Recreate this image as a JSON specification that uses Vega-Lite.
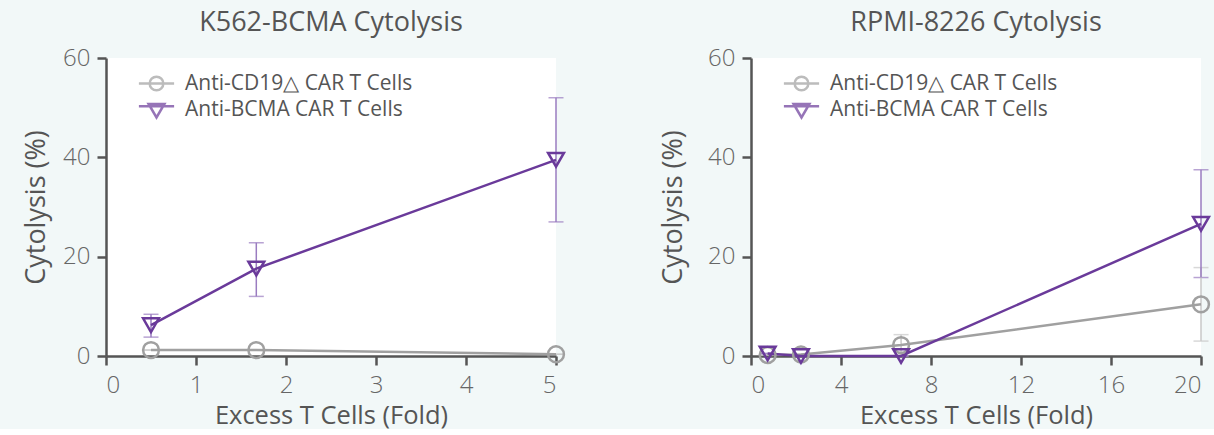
{
  "$schema": "https://vega.github.io/schema/vega-lite/v6.json",
  "background": "#f2f8f8",
  "padding": {"left": 22, "top": 9, "right": 2, "bottom": 0},
  "config": {
    "font": "Open Sans",
    "view": {"fill": "white", "stroke": null},
    "axis": {
      "grid": false,
      "domainColor": "#555555",
      "domainWidth": 2.5,
      "tickColor": "#555555",
      "tickWidth": 2.5,
      "tickSize": 9,
      "labelFont": "Open Sans",
      "labelFontWeight": 300,
      "labelFontSize": 24,
      "labelColor": "#666666",
      "titleFont": "Open Sans",
      "titleFontWeight": "normal",
      "titleFontSize": 27,
      "titleColor": "#555555"
    },
    "axisX": {"labelPadding": 8, "titlePadding": 6, "titleFontSize": 25.5},
    "axisY": {"labelPadding": 7, "titlePadding": 12},
    "title": {"font": "Open Sans", "fontSize": 27, "fontWeight": "normal", "color": "#555555", "anchor": "middle"},
    "legend": {
      "orient": "none",
      "legendX": 38,
      "legendY": 13,
      "labelFont": "Open Sans",
      "labelFontSize": 21,
      "labelColor": "#555555",
      "labelLimit": 0,
      "labelOffset": 16,
      "symbolSize": 484,
      "symbolStrokeWidth": 2.5,
      "symbolFillColor": "transparent",
      "rowPadding": 1,
      "title": null,
      "padding": 0
    }
  },
  "datasets": {
    "k562": [
      {"group": "Anti-CD19△ CAR T Cells", "fold": 0.5, "cytolysis": 1.2, "lo": 1.2, "hi": 1.2},
      {"group": "Anti-CD19△ CAR T Cells", "fold": 1.67, "cytolysis": 1.2, "lo": 1.2, "hi": 1.2},
      {"group": "Anti-CD19△ CAR T Cells", "fold": 5, "cytolysis": 0.35, "lo": 0.35, "hi": 0.35},
      {"group": "Anti-BCMA CAR T Cells", "fold": 0.5, "cytolysis": 6.2, "lo": 3.8, "hi": 8.4},
      {"group": "Anti-BCMA CAR T Cells", "fold": 1.67, "cytolysis": 17.6, "lo": 12, "hi": 22.8},
      {"group": "Anti-BCMA CAR T Cells", "fold": 5, "cytolysis": 39.5, "lo": 27, "hi": 52}
    ],
    "rpmi": [
      {"group": "Anti-CD19△ CAR T Cells", "fold": 0.74, "cytolysis": 0.2, "lo": 0.2, "hi": 0.2},
      {"group": "Anti-CD19△ CAR T Cells", "fold": 2.22, "cytolysis": 0.3, "lo": 0.3, "hi": 0.3},
      {"group": "Anti-CD19△ CAR T Cells", "fold": 6.67, "cytolysis": 2.2, "lo": 0.1, "hi": 4.3},
      {"group": "Anti-CD19△ CAR T Cells", "fold": 20, "cytolysis": 10.4, "lo": 3, "hi": 17.8},
      {"group": "Anti-BCMA CAR T Cells", "fold": 0.74, "cytolysis": 0.5, "lo": 0.5, "hi": 0.5},
      {"group": "Anti-BCMA CAR T Cells", "fold": 2.22, "cytolysis": 0, "lo": 0, "hi": 0},
      {"group": "Anti-BCMA CAR T Cells", "fold": 6.67, "cytolysis": 0, "lo": 0, "hi": 0},
      {"group": "Anti-BCMA CAR T Cells", "fold": 20, "cytolysis": 26.6, "lo": 15.8, "hi": 37.5}
    ]
  },
  "hconcat": [
    {
      "width": 450,
      "height": 298,
      "title": {"text": "K562-BCMA Cytolysis", "offset": 9},
      "data": {"name": "k562"},
      "encoding": {
        "x": {"field": "fold", "type": "quantitative", "title": "Excess T Cells (Fold)",
          "scale": {"domain": [0, 5], "nice": false},
          "axis": {"values": [0, 1, 2, 3, 4, 5], "format": "d"}}
      },
      "layer": [
        {
          "mark": {"type": "errorbar", "ticks": {"size": 15}, "thickness": 1.5},
          "encoding": {
            "y": {"field": "lo", "type": "quantitative", "title": "Cytolysis (%)",
              "scale": {"domain": [0, 60], "nice": false}},
            "y2": {"field": "hi"},
            "color": {"field": "group", "type": "nominal", "legend": null,
              "scale": {"domain": ["Anti-CD19△ CAR T Cells", "Anti-BCMA CAR T Cells"], "range": ["#c8c8c8", "#9a7cc0"]}}
          }
        },
        {
          "mark": {"type": "line", "strokeWidth": 2.5},
          "encoding": {
            "y": {"field": "cytolysis", "type": "quantitative", "title": "Cytolysis (%)"},
            "color": {"field": "group", "type": "nominal", "legend": null,
              "scale": {"domain": ["Anti-CD19△ CAR T Cells", "Anti-BCMA CAR T Cells"], "range": ["#a0a0a0", "#6a3a9a"]}}
          }
        },
        {
          "mark": {"type": "point", "filled": false, "strokeWidth": 2.5, "size": 250, "opacity": 1},
          "encoding": {
            "y": {"field": "cytolysis", "type": "quantitative", "title": "Cytolysis (%)",
              "axis": {"values": [0, 20, 40, 60]}},
            "color": {"field": "group", "type": "nominal", "legend": null,
              "scale": {"domain": ["Anti-CD19△ CAR T Cells", "Anti-BCMA CAR T Cells"], "range": ["#a0a0a0", "#6a3a9a"]}},
            "shape": {"field": "group", "type": "nominal", "legend": null,
              "scale": {"domain": ["Anti-CD19△ CAR T Cells", "Anti-BCMA CAR T Cells"], "range": ["circle", "triangle-down"]}}
          }
        },
        {
          "transform": [{"filter": "datum.fold < 0"}],
          "mark": {"type": "point", "filled": false, "strokeWidth": 2.5},
          "encoding": {
            "y": {"field": "cytolysis", "type": "quantitative", "title": "Cytolysis (%)"},
            "color": {"field": "group", "type": "nominal",
              "scale": {"domain": ["Anti-CD19△ CAR T Cells", "Anti-BCMA CAR T Cells"], "range": ["#a0a0a0", "#6a3a9a"]}},
            "shape": {"field": "group", "type": "nominal",
              "scale": {"domain": ["Anti-CD19△ CAR T Cells", "Anti-BCMA CAR T Cells"],
                "range": ["M-1.6,0H1.6M0.62,0A0.62,0.62 0 1 1 -0.62,0A0.62,0.62 0 1 1 0.62,0", "M-1.6,-0.3H1.6M-0.72,-0.5L0.72,-0.5L0,0.72Z"]}}
          }
        }
      ],
      "resolve": {"scale": {"color": "independent", "shape": "independent"}}
    },
    {
      "width": 450,
      "height": 298,
      "title": {"text": "RPMI-8226 Cytolysis", "offset": 9},
      "data": {"name": "rpmi"},
      "encoding": {
        "x": {"field": "fold", "type": "quantitative", "title": "Excess T Cells (Fold)",
          "scale": {"domain": [0, 20], "nice": false},
          "axis": {"values": [0, 4, 8, 12, 16, 20], "format": "d"}}
      },
      "layer": [
        {
          "mark": {"type": "errorbar", "ticks": {"size": 15}, "thickness": 1.5},
          "encoding": {
            "y": {"field": "lo", "type": "quantitative", "title": "Cytolysis (%)",
              "scale": {"domain": [0, 60], "nice": false}},
            "y2": {"field": "hi"},
            "color": {"field": "group", "type": "nominal", "legend": null,
              "scale": {"domain": ["Anti-CD19△ CAR T Cells", "Anti-BCMA CAR T Cells"], "range": ["#c8c8c8", "#9a7cc0"]}}
          }
        },
        {
          "mark": {"type": "line", "strokeWidth": 2.5},
          "encoding": {
            "y": {"field": "cytolysis", "type": "quantitative", "title": "Cytolysis (%)"},
            "color": {"field": "group", "type": "nominal", "legend": null,
              "scale": {"domain": ["Anti-CD19△ CAR T Cells", "Anti-BCMA CAR T Cells"], "range": ["#a0a0a0", "#6a3a9a"]}}
          }
        },
        {
          "mark": {"type": "point", "filled": false, "strokeWidth": 2.5, "size": 250, "opacity": 1},
          "encoding": {
            "y": {"field": "cytolysis", "type": "quantitative", "title": "Cytolysis (%)",
              "axis": {"values": [0, 20, 40, 60], "titlePadding": 20}},
            "color": {"field": "group", "type": "nominal", "legend": null,
              "scale": {"domain": ["Anti-CD19△ CAR T Cells", "Anti-BCMA CAR T Cells"], "range": ["#a0a0a0", "#6a3a9a"]}},
            "shape": {"field": "group", "type": "nominal", "legend": null,
              "scale": {"domain": ["Anti-CD19△ CAR T Cells", "Anti-BCMA CAR T Cells"], "range": ["circle", "triangle-down"]}}
          }
        },
        {
          "transform": [{"filter": "datum.fold < 0"}],
          "mark": {"type": "point", "filled": false, "strokeWidth": 2.5},
          "encoding": {
            "y": {"field": "cytolysis", "type": "quantitative", "title": "Cytolysis (%)"},
            "color": {"field": "group", "type": "nominal",
              "scale": {"domain": ["Anti-CD19△ CAR T Cells", "Anti-BCMA CAR T Cells"], "range": ["#a0a0a0", "#6a3a9a"]}},
            "shape": {"field": "group", "type": "nominal",
              "scale": {"domain": ["Anti-CD19△ CAR T Cells", "Anti-BCMA CAR T Cells"],
                "range": ["M-1.6,0H1.6M0.62,0A0.62,0.62 0 1 1 -0.62,0A0.62,0.62 0 1 1 0.62,0", "M-1.6,-0.3H1.6M-0.72,-0.5L0.72,-0.5L0,0.72Z"]}}
          }
        }
      ],
      "resolve": {"scale": {"color": "independent", "shape": "independent"}}
    }
  ],
  "resolve": {"scale": {"x": "independent", "y": "independent", "color": "independent", "shape": "independent"}},
  "spacing": 90
}
